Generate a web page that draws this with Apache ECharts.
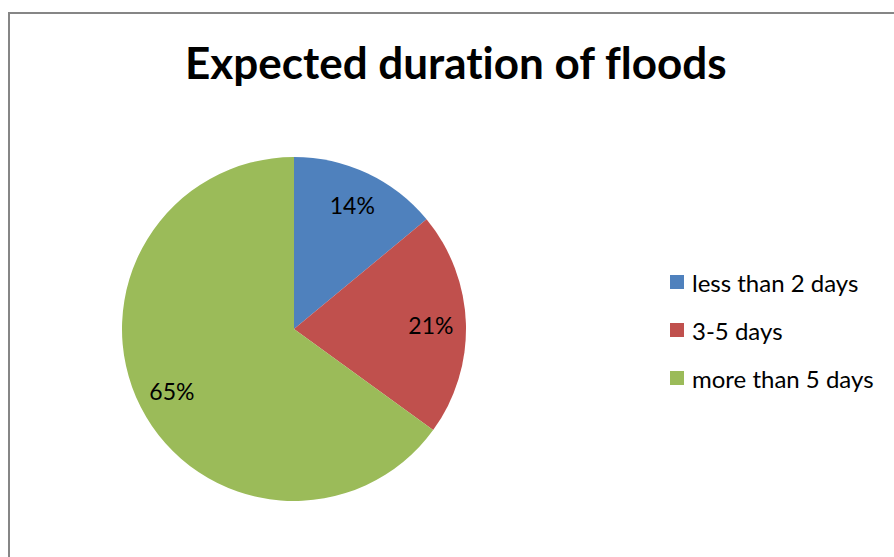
<!DOCTYPE html>
<html><head><meta charset="utf-8">
<script src="https://cdn.jsdelivr.net/npm/echarts@6/dist/echarts.min.js"></script>
<style>html,body{margin:0;padding:0;background:#fff}#c{width:894px;height:557px}svg text{font-variant-ligatures:none;font-feature-settings:"liga" 0}</style>
</head><body><div id="c"></div>
<script>
const categories = ['less than 2 days', '3-5 days', 'more than 5 days'];
const values = [14, 21, 65];
const colors = ['#4F81BD', '#C0504D', '#9BBB59'];
const titleText = 'Expected duration of floods';

const data = categories.map((c, i) => ({ name: c, value: values[i], itemStyle: { color: colors[i] } }));
const chart = echarts.init(document.getElementById('c'), null, { renderer: 'svg' });
const font = 'Lato, "Open Sans", sans-serif';
chart.setOption({
  animation: false,
  title: { text: titleText, left: 180, top: 35, textStyle: { fontFamily: font, fontSize: 44, fontWeight: 'bold', color: '#000' } },
  legend: {
    orient: 'vertical', left: 665, top: 265, itemWidth: 14, itemHeight: 14, itemGap: 24,
    icon: 'rect',
    textStyle: { fontFamily: font, fontSize: 24, color: '#000', padding: [0,0,0,3] },
    data: categories
  },
  graphic: [{ type: 'rect', shape: { x: 9, y: 13, width: 2000, height: 2000 }, style: { fill: 'none', stroke: '#868686', lineWidth: 2 }, silent: true }],
  series: [
    { type: 'pie', center: [294, 329], radius: [0, 172], startAngle: 90, clockwise: true, label: { show: false }, labelLine: { show: false }, data: data, silent: true },
    { type: 'pie', center: [294, 329], radius: [96, 172], startAngle: 90, clockwise: true, silent: true,
      itemStyle: { color: 'rgba(0,0,0,0)' },
      label: { show: true, position: 'inside', formatter: p => p.value + '%', fontFamily: font, fontSize: 23, color: '#000' },
      labelLine: { show: false },
      data: categories.map((c, i) => ({ name: c + ' ', value: values[i], itemStyle: { color: 'rgba(0,0,0,0)' } })) }
  ]
});
</script></body></html>
